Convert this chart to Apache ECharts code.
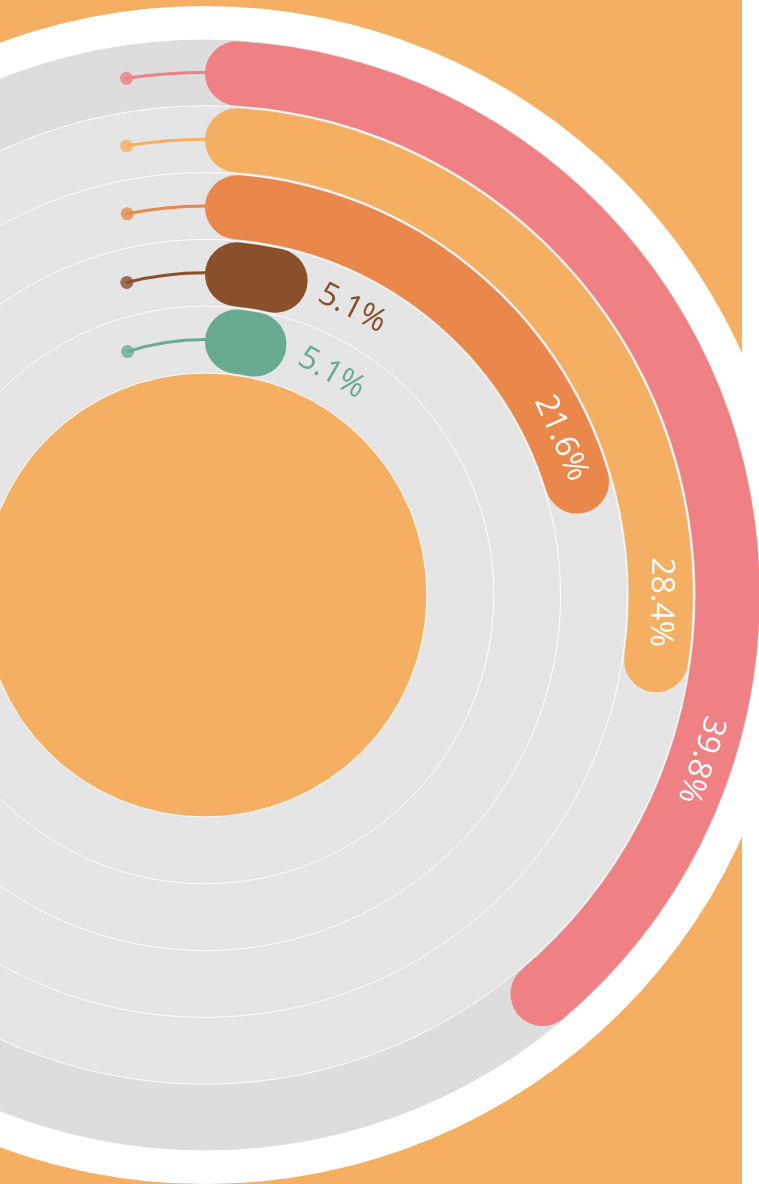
<!DOCTYPE html>
<html>
<head>
<meta charset="utf-8">
<script src="https://cdn.jsdelivr.net/npm/echarts@6/dist/echarts.min.js"></script>
<style>
  html, body { margin: 0; padding: 0; background: #fff; }
  #chart {
    width: 759px;
    height: 1184px;
    background: linear-gradient(to right, #F4AF62 742px, #ffffff 742px);
  }
</style>
</head>
<body>
<div id="chart"></div>
<script>
// rings listed from the inside out
const categories = ['E', 'D', 'C', 'B', 'A'];
const shares = [5.1, 5.1, 21.6, 28.4, 39.8];
// where each percentage label sits along its ring (same units as shares)
const labelAt = [8.25, 7.55, 18.4, 25.25, 30.1];
// end of the thin lead-in line, before the start of each bar
const leadTo = [-4.9, -3.9, -3.2, -2.75, -2.4];

const colors = ['#69AB90', '#8A4F2B', '#EA884C', '#F4AF62', '#EF8083'];
const labelColors = ['#69AB90', '#8A4F2B', '#ffffff', '#ffffff', '#ffffff'];

const center = [205, 595];
const ringRadius = [222, 556];

const chart = echarts.init(document.getElementById('chart'));

chart.setOption({
    animation: false,
    polar: [
        { center: center, radius: ringRadius },
        { center: center, radius: ringRadius }
    ],
    angleAxis: [
        { polarIndex: 0, type: 'value', min: 0, max: 100, startAngle: 90, clockwise: true, show: false },
        { polarIndex: 1, type: 'value', min: 0, max: 100, startAngle: 90, clockwise: true, show: false }
    ],
    radiusAxis: [
        {
            polarIndex: 0,
            type: 'category',
            data: categories,
            axisLine: { show: false },
            axisTick: { show: false },
            axisLabel: { show: false },
            splitLine: { show: false },
            splitArea: {
                show: true,
                areaStyle: { color: ['#E5E5E5', '#E5E5E5', '#E5E5E5', '#E5E5E5', '#DCDDDC'] }
            }
        },
        {
            // second axis only draws the white ring separators on top of the bands
            polarIndex: 1,
            type: 'category',
            data: categories,
            z: 1,
            axisLine: { show: false },
            axisTick: { show: false },
            axisLabel: { show: false },
            splitLine: { show: true, lineStyle: { color: '#ffffff', width: 1 } },
            splitArea: { show: false }
        }
    ],
    series: [
        {
            // white rim around the grey disc
            type: 'pie',
            center: center,
            radius: [556, 589],
            silent: true,
            label: { show: false },
            labelLine: { show: false },
            data: [{ value: 1, itemStyle: { color: '#ffffff' } }]
        },
        {
            type: 'bar',
            coordinateSystem: 'polar',
            polarIndex: 1,
            barWidth: 3,
            roundCap: true,
            silent: true,
            z: 2,
            data: leadTo.map((v, i) => ({ value: v, itemStyle: { color: colors[i] } }))
        },
        {
            type: 'scatter',
            coordinateSystem: 'polar',
            polarIndex: 1,
            symbolSize: 13,
            silent: true,
            z: 3,
            data: categories.map((c, i) => ({ value: [c, leadTo[i]], itemStyle: { color: colors[i] } }))
        },
        {
            type: 'bar',
            coordinateSystem: 'polar',
            polarIndex: 0,
            barCategoryGap: '4%',
            z: 4,
            itemStyle: { borderRadius: 32 },
            data: shares.map((v, i) => ({ value: v, itemStyle: { color: colors[i] } }))
        },
        {
            type: 'custom',
            coordinateSystem: 'polar',
            polarIndex: 0,
            z: 5,
            silent: true,
            data: categories.map((c, i) => [i, labelAt[i]]),
            renderItem: function (params, api) {
                const p = api.coord([api.value(0), api.value(1)]);
                const cs = params.coordSys;
                const ang = Math.atan2(p[0] - cs.cx, cs.cy - p[1]);
                const i = params.dataIndex;
                return {
                    type: 'text',
                    x: p[0],
                    y: p[1],
                    rotation: -ang,
                    style: {
                        text: shares[i].toFixed(1) + '%',
                        fill: labelColors[i],
                        fontSize: 32,
                        fontFamily: 'Open Sans',
                        align: 'center',
                        verticalAlign: 'middle'
                    }
                };
            }
        }
    ]
});
</script>
</body>
</html>
